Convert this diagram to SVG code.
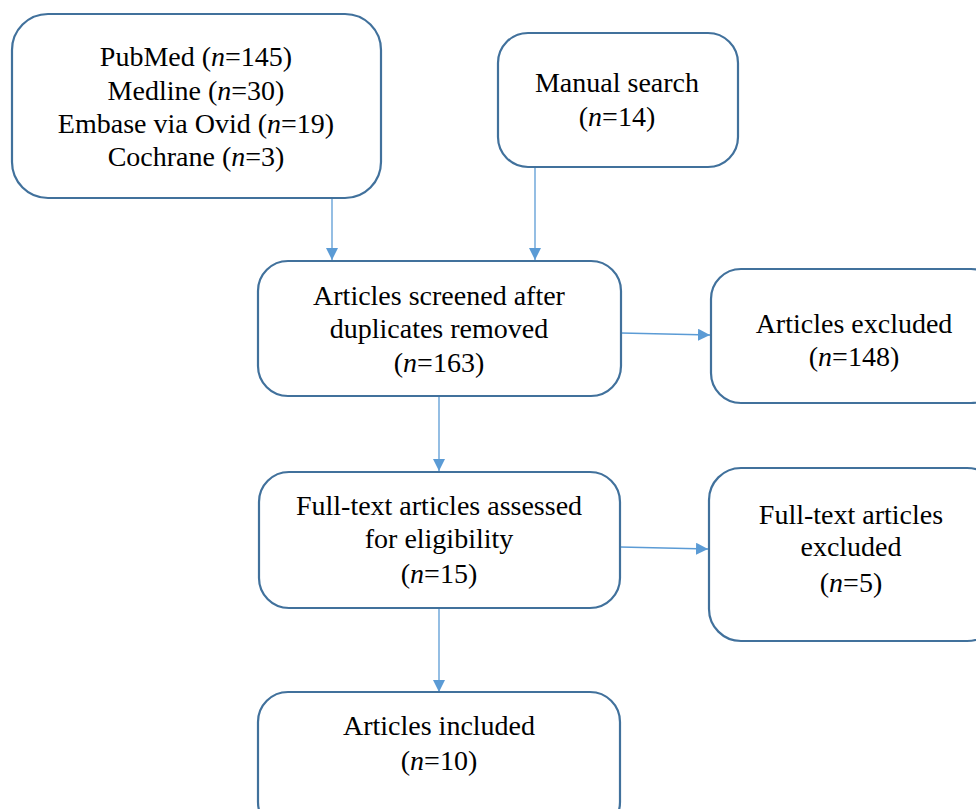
<svg xmlns="http://www.w3.org/2000/svg" width="976" height="809" viewBox="0 0 976 809">
<defs>
<style>
.box{fill:#fff;stroke:#41719C;stroke-width:2.2}
.t{font-family:"Liberation Serif","Times New Roman",serif;font-size:28px;fill:#000;text-anchor:middle}
.i{font-style:italic}
.c{stroke:#5B9BD5;stroke-width:1.3;fill:none}
</style>
<marker id="ah" viewBox="0 0 12 12" refX="12" refY="6" markerWidth="12" markerHeight="12" markerUnits="userSpaceOnUse" orient="auto">
<path d="M0,0 L12,6 L0,12 Z" fill="#5B9BD5"/>
</marker>
</defs>
<rect width="976" height="809" fill="#fff"/>
<g id="connectors">
<line class="c" x1="332" y1="198" x2="332" y2="260" marker-end="url(#ah)"/>
<line class="c" x1="535" y1="167" x2="535" y2="260" marker-end="url(#ah)"/>
<line class="c" x1="621" y1="333" x2="710" y2="335" marker-end="url(#ah)"/>
<line class="c" x1="439" y1="396" x2="439" y2="471" marker-end="url(#ah)"/>
<line class="c" x1="620" y1="547" x2="708" y2="549" marker-end="url(#ah)"/>
<line class="c" x1="439" y1="609" x2="439" y2="692" marker-end="url(#ah)"/>
</g>
<g id="databases">
<rect class="box" x="12" y="14" width="369" height="184" rx="36"/>
<text class="t" x="196" y="66">PubMed (<tspan class="i">n</tspan>=145)</text>
<text class="t" x="196" y="100">Medline (<tspan class="i">n</tspan>=30)</text>
<text class="t" x="196" y="133">Embase via Ovid (<tspan class="i">n</tspan>=19)</text>
<text class="t" x="196" y="166">Cochrane (<tspan class="i">n</tspan>=3)</text>
</g>
<g id="manual">
<rect class="box" x="498" y="33" width="240" height="134" rx="30"/>
<text class="t" x="617" y="92">Manual search</text>
<text class="t" x="617" y="126">(<tspan class="i">n</tspan>=14)</text>
</g>
<g id="screened">
<rect class="box" x="258" y="261" width="363" height="135" rx="30"/>
<text class="t" x="439" y="305">Articles screened after</text>
<text class="t" x="439" y="338">duplicates removed</text>
<text class="t" x="439" y="372">(<tspan class="i">n</tspan>=163)</text>
</g>
<g id="excluded">
<rect class="box" x="711" y="269" width="290" height="134" rx="30"/>
<text class="t" x="854" y="333">Articles excluded</text>
<text class="t" x="854" y="366">(<tspan class="i">n</tspan>=148)</text>
</g>
<g id="fulltext">
<rect class="box" x="259" y="472" width="361" height="136" rx="30"/>
<text class="t" x="439" y="515">Full-text articles assessed</text>
<text class="t" x="439" y="548">for eligibility</text>
<text class="t" x="439" y="583">(<tspan class="i">n</tspan>=15)</text>
</g>
<g id="fulltext-excluded">
<rect class="box" x="709" y="468" width="290" height="173" rx="32"/>
<text class="t" x="851" y="524">Full-text articles</text>
<text class="t" x="851" y="556">excluded</text>
<text class="t" x="851" y="592">(<tspan class="i">n</tspan>=5)</text>
</g>
<g id="included">
<rect class="box" x="258" y="692" width="362" height="140" rx="30"/>
<text class="t" x="439" y="735">Articles included</text>
<text class="t" x="439" y="770">(<tspan class="i">n</tspan>=10)</text>
</g>
</svg>
